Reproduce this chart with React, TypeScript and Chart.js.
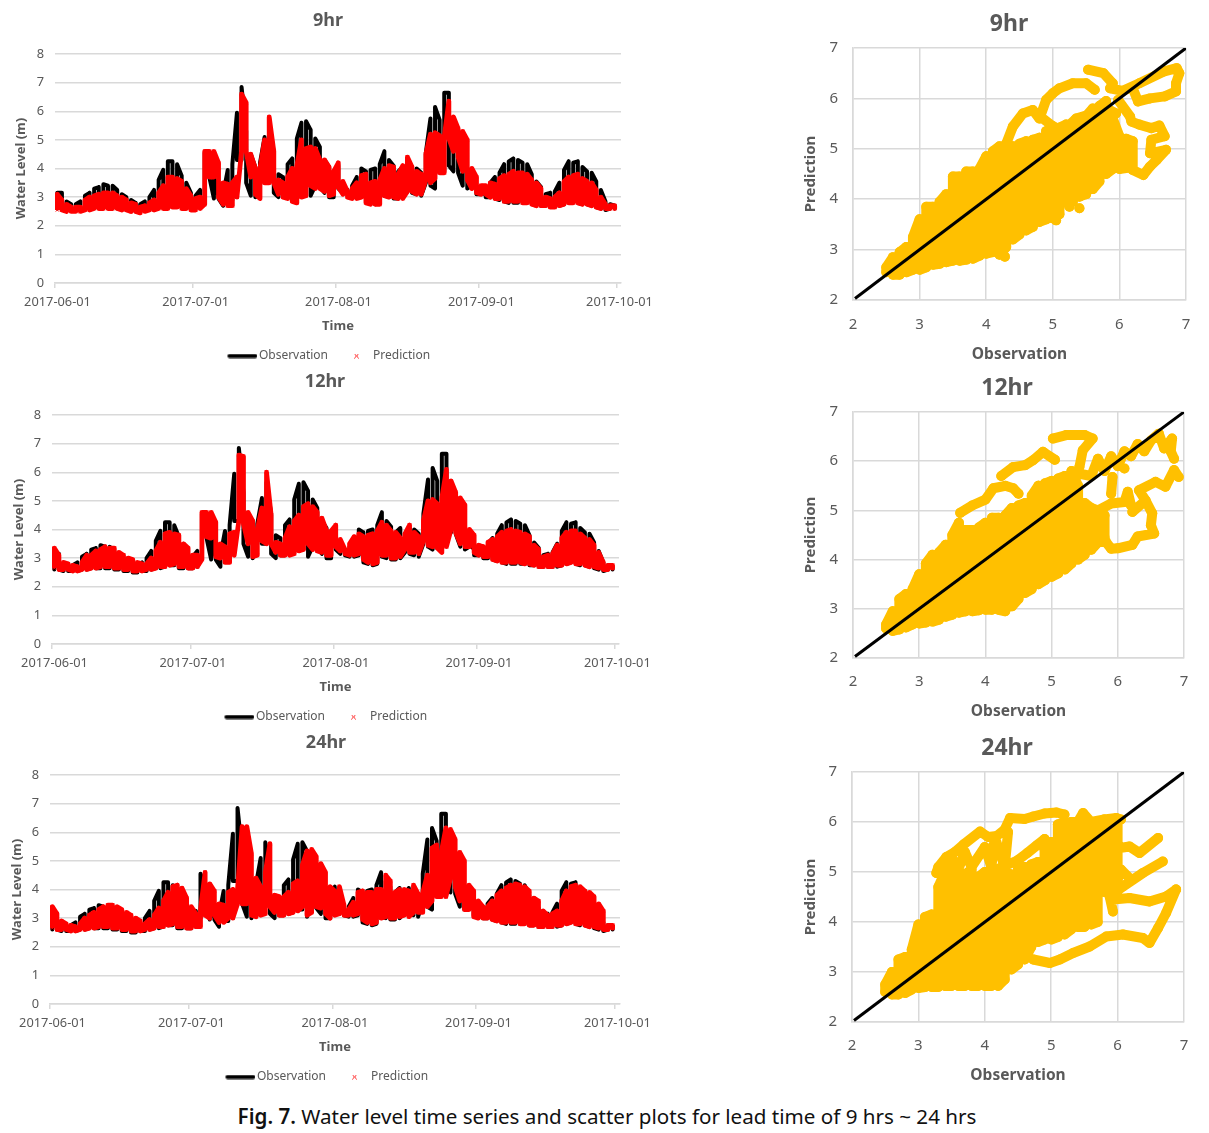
import React, { useEffect, useRef } from "react";
import { Chart, registerables } from "chart.js";

Chart.register(...registerables);

// ---------- shared labels ----------
const dateTicks = ["2017-06-01", "2017-07-01", "2017-08-01", "2017-09-01", "2017-10-01"];
const levelTicks = [0, 1, 2, 3, 4, 5, 6, 7, 8];
const scatterTicks = [2, 3, 4, 5, 6, 7];
const identityLine = [2.03, 7];
const captionBold = "Fig. 7.";
const captionRest = " Water level time series and scatter plots for lead time of 9 hrs ~ 24 hrs";

// ---------- daily high / low water level (m), from 2017-06-01 ----------
const obsHigh = [
  3.15, 3.15, 2.85, 2.75, 2.75, 2.85, 3.05, 3.15, 3.3, 3.35,
  3.45, 3.4, 3.4, 3.25, 3.1, 3.0, 2.9, 2.8, 2.75, 2.85,
  3.0, 3.25, 3.6, 3.95, 4.25, 4.25, 4.15, 3.75, 3.5, 3.15,
  3.05, 3.25, 4.55, 4.1, 3.75, 3.0, 3.1, 3.95, 4.15, 5.95,
  6.85, 5.3, 4.5, 4.05, 4.2, 5.1, 5.65, 4.55, 3.8, 3.7,
  4.15, 4.35, 5.05, 5.6, 5.65, 5.35, 5.05, 4.75, 4.3, 4.05,
  3.9, 4.1, 3.4, 3.25, 3.4, 3.7, 4.0, 3.9, 3.95, 4.0,
  4.15, 4.6, 4.3, 4.1, 3.9, 4.05, 3.8, 4.05, 4.0, 3.85,
  4.55, 5.75, 6.15, 5.7, 6.65, 6.65, 5.2, 4.9, 4.4, 3.9,
  3.5, 3.3, 3.15, 3.1, 3.5, 3.7, 3.85, 4.15, 4.25, 4.35,
  4.3, 4.2, 4.15, 3.8, 3.55, 3.35, 3.1, 3.15, 3.2, 3.5,
  3.95, 4.25, 4.2, 4.25, 4.05, 3.9, 3.85, 3.55, 3.25, 2.85,
  2.75, 2.7,
];
const obsLow = [
  2.6, 2.6, 2.55, 2.55, 2.55, 2.55, 2.6, 2.6, 2.65, 2.65,
  2.65, 2.65, 2.65, 2.6, 2.6, 2.55, 2.55, 2.5, 2.5, 2.55,
  2.55, 2.6, 2.65, 2.65, 2.7, 2.75, 2.75, 2.65, 2.65, 2.65,
  2.65, 2.7, 3.0, 3.7, 2.95, 2.95, 2.7, 2.9, 2.9, 4.3,
  4.3, 3.5, 3.05, 3.0, 3.5, 3.5, 3.5, 3.15, 3.0, 3.1,
  3.1, 3.15, 3.2, 3.3, 3.3, 3.05, 3.4, 3.35, 3.15, 3.0,
  3.0, 3.3, 3.15, 3.1, 3.05, 3.05, 3.1, 2.85, 2.8, 2.75,
  2.8, 3.05, 3.0, 2.95, 2.95, 3.0, 3.2, 3.15, 3.1, 3.05,
  3.5, 3.4, 3.3, 4.2, 3.9, 4.1, 3.9, 3.85, 3.4, 3.3,
  3.4, 3.1, 3.1, 3.0, 3.0, 2.95, 2.9, 2.85, 2.8, 2.8,
  2.8, 2.8, 2.8, 2.75, 2.75, 2.7, 2.7, 2.7, 2.7, 2.7,
  2.75, 2.8, 2.85, 2.8, 2.75, 2.75, 2.7, 2.65, 2.6, 2.55,
  2.6, 2.6,
];
const pred9High = [
  3.1, 2.9, 2.75, 2.65, 2.65, 2.65, 2.9, 3.0, 3.05, 3.1,
  3.15, 3.15, 3.15, 3.05, 3.0, 2.9, 2.8, 2.75, 2.65, 2.7,
  2.8, 2.9, 3.15, 3.4, 3.7, 3.7, 3.65, 3.55, 3.3, 3.05,
  2.95, 3.0, 4.6, 4.6, 4.6, 4.2, 3.5, 3.45, 3.5, 3.7,
  6.6, 6.3, 4.5, 4.0, 4.0, 5.0, 5.8, 4.6, 3.6, 3.5,
  3.7, 4.0, 4.1, 5.0, 4.7, 4.75, 4.7, 4.3, 4.3, 4.05,
  3.9, 4.2, 3.55, 3.2, 3.3, 3.5, 3.75, 3.8, 3.5, 3.55,
  3.6, 4.0, 4.1, 4.05, 3.8, 4.1, 4.4, 4.05, 3.9, 3.8,
  4.5, 5.2, 5.25, 5.15, 5.1, 6.35, 5.8, 5.4, 5.3, 5.0,
  4.0, 3.7, 3.4, 3.4, 3.5, 3.45, 3.65, 3.75, 3.8, 3.9,
  3.85, 3.85, 3.8, 3.6, 3.5, 3.3, 3.0, 2.95, 3.0, 3.15,
  3.55, 3.7, 3.75, 3.8, 3.65, 3.55, 3.5, 3.25, 3.0, 2.75,
  2.7, 2.7,
];
const pred9Low = [
  2.55, 2.55, 2.5, 2.5, 2.5, 2.5, 2.55, 2.55, 2.6, 2.6,
  2.6, 2.6, 2.6, 2.6, 2.55, 2.55, 2.5, 2.5, 2.45, 2.5,
  2.55, 2.55, 2.6, 2.6, 2.6, 2.65, 2.65, 2.6, 2.6, 2.55,
  2.55, 2.6, 2.75, 3.7, 3.7, 3.0, 2.75, 2.7, 2.7, 3.0,
  4.6, 4.6, 3.7, 3.1, 2.95, 3.5, 3.5, 3.5, 3.1, 3.0,
  2.95, 2.85, 2.8, 3.0, 3.05, 3.4, 3.3, 3.3, 3.2, 3.05,
  3.1, 3.35, 3.1, 3.0, 2.95, 2.95, 3.0, 2.8, 2.75, 2.75,
  2.75, 3.05, 3.0, 3.0, 2.95, 2.95, 3.2, 3.2, 3.1, 3.1,
  3.6, 3.5, 3.65, 3.85, 3.85, 5.05, 4.6, 4.4, 3.9, 3.6,
  3.3, 3.15, 3.1, 3.1, 3.0, 2.95, 2.95, 2.85, 2.85, 2.85,
  2.85, 2.8, 2.8, 2.75, 2.7, 2.7, 2.7, 2.65, 2.65, 2.7,
  2.75, 2.8, 2.8, 2.8, 2.75, 2.75, 2.7, 2.65, 2.6, 2.6,
  2.6, 2.6,
];
const pred12High = [
  3.35, 3.1, 2.85, 2.8, 2.75, 2.7, 2.85, 3.1, 3.1, 3.25,
  3.3, 3.4, 3.35, 3.35, 3.2, 3.1, 3.0, 2.95, 2.85, 2.8,
  2.8, 3.0, 3.25, 3.55, 3.85, 3.9, 3.85, 3.8, 3.5, 3.35,
  3.1, 3.1, 4.6, 4.6, 4.6, 4.25, 3.5, 3.4, 3.85, 3.9,
  6.6, 6.55, 4.6, 4.3, 4.0, 4.75, 6.0, 4.5, 3.55, 3.5,
  3.7, 4.1, 4.3, 4.5, 4.8, 4.9, 4.8, 4.6, 4.4, 3.95,
  3.95, 4.15, 3.65, 3.3, 3.5, 3.75, 3.85, 3.75, 3.8, 3.85,
  3.95, 4.25, 4.15, 3.95, 3.9, 3.7, 3.85, 4.15, 3.9, 3.75,
  4.3, 5.0, 5.05, 4.9, 5.1, 6.1, 5.7, 5.3, 5.1, 4.85,
  4.0, 3.8, 3.45, 3.4, 3.55, 3.65, 3.75, 3.9, 3.95, 4.0,
  3.95, 3.9, 3.85, 3.75, 3.45, 3.3, 3.05, 3.1, 3.15, 3.45,
  3.7, 3.9, 3.95, 3.95, 3.85, 3.7, 3.65, 3.45, 3.2, 2.85,
  2.75, 2.75,
];
const pred12Low = [
  2.65, 2.6, 2.6, 2.6, 2.55, 2.55, 2.6, 2.6, 2.65, 2.65,
  2.7, 2.7, 2.7, 2.65, 2.65, 2.6, 2.6, 2.55, 2.55, 2.55,
  2.6, 2.6, 2.65, 2.7, 2.7, 2.75, 2.8, 2.7, 2.7, 2.65,
  2.65, 2.7, 2.95, 3.75, 3.7, 3.05, 3.0, 2.85, 2.85, 3.1,
  4.3, 4.2, 3.5, 3.05, 3.1, 3.6, 3.5, 3.5, 3.2, 3.1,
  3.1, 3.1, 3.15, 3.25, 3.3, 3.5, 3.3, 3.25, 3.2, 3.1,
  3.1, 3.4, 3.25, 3.15, 3.1, 3.1, 3.15, 2.95, 2.85, 2.8,
  2.85, 3.1, 3.1, 3.0, 3.0, 3.05, 3.3, 3.2, 3.2, 3.15,
  3.6, 3.45, 3.4, 3.35, 3.2, 3.4, 4.0, 3.9, 3.5, 3.4,
  3.4, 3.2, 3.1, 3.05, 3.05, 2.95, 2.9, 2.85, 2.85, 2.85,
  2.85, 2.85, 2.8, 2.8, 2.75, 2.7, 2.7, 2.7, 2.7, 2.75,
  2.75, 2.8, 2.85, 2.8, 2.8, 2.75, 2.7, 2.7, 2.65, 2.6,
  2.6, 2.65,
];
const pred24High = [
  3.4, 3.15, 2.9, 2.8, 2.75, 2.7, 2.8, 3.0, 3.1, 3.2,
  3.3, 3.4, 3.45, 3.45, 3.4, 3.3, 3.2, 3.1, 3.0, 2.9,
  2.8, 2.95, 3.1, 3.35, 3.6, 3.9, 4.1, 4.15, 4.05, 3.7,
  3.4, 3.15, 3.3, 4.6, 4.2, 3.95, 3.5, 3.45, 3.9, 4.0,
  4.0, 6.2, 6.2, 5.25, 4.4, 4.1, 4.6, 5.6, 3.8, 3.75,
  3.75, 3.9, 4.2, 4.3, 4.85, 5.35, 5.4, 5.15, 4.9, 4.6,
  4.1, 3.95, 4.1, 3.45, 3.3, 3.55, 3.9, 3.95, 3.9, 3.9,
  4.0, 4.0, 4.5, 4.3, 3.9, 4.0, 4.0, 3.95, 4.15, 3.85,
  3.9, 4.5, 5.45, 5.55, 5.3, 6.15, 6.1, 5.75, 5.3, 5.0,
  4.15, 3.95, 3.6, 3.4, 3.4, 3.6, 3.8, 3.95, 4.05, 4.15,
  4.2, 4.15, 4.1, 3.95, 3.7, 3.6, 3.25, 3.1, 3.15, 3.25,
  3.6, 3.95, 4.1, 4.15, 4.1, 3.95, 3.9, 3.75, 3.5, 3.25,
  2.75, 2.75,
];
const pred24Low = [
  2.65, 2.6, 2.6, 2.6, 2.55, 2.55, 2.6, 2.6, 2.65, 2.65,
  2.7, 2.7, 2.7, 2.65, 2.65, 2.6, 2.6, 2.55, 2.55, 2.55,
  2.6, 2.6, 2.65, 2.7, 2.7, 2.75, 2.8, 2.7, 2.7, 2.65,
  2.65, 2.7, 2.7, 3.1, 3.0, 3.1, 2.85, 2.85, 3.0, 3.0,
  3.5, 3.5, 3.5, 3.1, 3.05, 3.1, 3.15, 3.4, 3.2, 3.1,
  3.1, 3.15, 3.2, 3.25, 3.4, 3.1, 3.2, 3.4, 3.35, 3.15,
  3.0, 3.1, 3.15, 3.1, 3.1, 3.1, 3.15, 2.95, 2.85, 2.8,
  2.85, 3.0, 3.05, 3.0, 3.0, 3.05, 3.1, 3.05, 3.2, 3.2,
  3.2, 3.4, 3.6, 3.75, 3.75, 3.75, 4.4, 4.1, 3.6, 3.3,
  3.3, 3.05, 3.0, 3.0, 3.0, 2.95, 2.9, 2.85, 2.85, 2.85,
  2.85, 2.8, 2.8, 2.75, 2.75, 2.7, 2.7, 2.7, 2.7, 2.75,
  2.75, 2.8, 2.85, 2.8, 2.8, 2.75, 2.7, 2.7, 2.65, 2.6,
  2.6, 2.65,
];

// ---------- scatter: dense body, as low / high prediction per observation column ----------
const bodyColumns = [
  2.5, 2.6, 2.7, 2.8, 2.9, 3.0, 3.1, 3.2, 3.3, 3.4, 3.5, 3.6, 3.7, 3.8, 3.9, 4.0, 4.1, 4.2, 4.3,
  4.4, 4.5, 4.6, 4.7, 4.8, 4.9, 5.0, 5.1, 5.2, 5.3, 5.4, 5.5, 5.6, 5.7, 5.8, 5.9, 6.0, 6.1, 6.2,
];
const body9Low = [
  2.55, 2.5, 2.5, 2.55, 2.6, 2.6, 2.65, 2.7, 2.72, 2.75, 2.78, 2.78, 2.8, 2.82, 2.88, 2.92, 2.95, 2.9, 3.05,
  3.2, 3.3, 3.38, 3.45, 3.55, 3.6, 3.62, 3.7, 3.95, 3.95, 4.05, 4.1, 4.2, 4.35, 4.5, 4.6, 4.6, 4.62, 4.6,
];
const body9High = [
  2.65, 2.85, 2.95, 3.05, 3.25, 3.6, 3.85, 3.85, 3.95, 4.1, 4.45, 4.45, 4.55, 4.55, 4.6, 4.85, 4.95, 5.05, 5.05,
  5.05, 5.1, 5.15, 5.18, 5.22, 5.35, 5.4, 5.42, 5.48, 5.5, 5.55, 5.65, 5.8, 5.85, 5.95, 5.6, 5.25, 5.2, 5.15,
];
const body12Low = [
  2.6, 2.55, 2.58, 2.62, 2.68, 2.7, 2.72, 2.74, 2.78, 2.84, 2.88, 2.92, 2.95, 2.95, 2.97, 2.98, 2.98, 2.98, 2.95,
  3.05, 3.2, 3.32, 3.4, 3.5, 3.58, 3.65, 3.72, 3.8, 3.92, 4.0, 4.1, 4.2, 4.35, 4.45,
];
const body12High = [
  2.68, 2.95, 3.2, 3.3, 3.4, 3.7, 3.92, 4.1, 4.15, 4.3, 4.5, 4.75, 4.6, 4.6, 4.65, 4.75, 4.85, 4.85, 4.9,
  5.05, 5.1, 5.15, 5.3, 5.5, 5.55, 5.6, 5.65, 5.7, 5.8, 5.5, 5.15, 5.05, 4.95, 4.9,
];
const body24Low = [
  2.6, 2.55, 2.55, 2.58, 2.65, 2.68, 2.7, 2.7, 2.7, 2.72, 2.72, 2.72, 2.72, 2.72, 2.72, 2.72, 2.72, 2.72, 2.85,
  3.05, 3.15, 3.25, 3.5, 3.6, 3.65, 3.65, 3.7, 3.75, 3.85, 3.9, 3.9, 3.95, 4.0, 4.6, 4.6, 4.7,
];
const body24High = [
  2.75, 3.0, 3.25, 3.3, 3.45, 3.95, 4.1, 4.15, 4.7, 5.0, 5.0, 4.95, 4.95, 5.05, 4.9, 5.0, 5.1, 5.0, 5.0,
  4.95, 5.05, 5.1, 5.15, 5.2, 5.45, 5.6, 5.95, 6.0, 6.0, 6.0, 6.0, 6.0, 6.0, 6.05, 6.05, 6.05,
];

// ---------- scatter: outlying runs of observation / prediction (null in prediction = break) ----------
const runs9Obs = [
  4.3, 4.4, 4.55, 4.7, 4.8, 4.9, 5.0, 5.1, 5.3, 5.5, 5.63, 5.63,
  4.8, 5.0, 5.15, 5.35, 5.6, 5.75, 5.95, 5.95,
  5.53, 5.76, 5.9, 5.86, 6.05, 6.3, 6.66, 6.86, 6.9, 6.85, 6.85, 6.68, 6.46, 6.28, 6.2, 6.2,
  5.98, 6.16, 6.18, 6.3, 6.48, 6.6, 6.68, 6.48, 6.46, 6.7, 6.56, 6.46, 6.36, 6.2, 6.2,
  4.28, 4.28, 5.05, 5.05, 5.25, 5.25, 5.4,
];
const runs9Pred = [
  5.1, 5.44, 5.7, 5.77, 5.6, 5.97, 6.1, 6.2, 6.3, 6.3, 6.17, null,
  5.65, 5.45, 5.35, 5.6, 5.7, 5.84, 5.7, null,
  6.57, 6.5, 6.3, 6.2, 6.15, 6.3, 6.53, 6.6, 6.5, 6.3, 6.14, 6.04, 6.0, 5.94, 6.2, null,
  5.97, 5.64, 5.54, 5.48, 5.41, 5.46, 5.25, 5.18, 4.91, 4.98, 4.78, 4.65, 4.48, 4.58, null,
  2.86, null, 3.58, null, 3.85, null, 3.82,
];
const runs12Obs = [
  3.62, 3.8, 4.0, 4.12, 4.3, 4.42, 4.5, 4.5,
  4.24, 4.42, 4.6, 4.72, 4.87, 5.05, 5.05,
  5.02, 5.22, 5.5, 5.62, 5.47, 5.42, 5.42,
  5.4, 5.6, 5.7, 5.8, 5.9, 6.0, 6.1, 6.2, 6.3, 6.4, 6.5, 6.62, 6.7, 6.82, 6.8, 6.85, 6.85,
  5.92, 5.9, 5.9, 6.1, 6.1,
  5.3, 5.5, 5.7, 5.9, 6.1, 6.15, 6.2, 6.2,
  6.92, 6.85, 6.72, 6.57, 6.32, 6.42, 6.22, 6.42, 6.52, 6.5, 6.55, 6.3, 6.22, 6.0, 5.9, 5.82, 5.72, 5.5,
];
const runs12Pred = [
  4.95, 5.1, 5.22, 5.45, 5.5, 5.45, 5.34, null,
  5.7, 5.88, 5.92, 6.02, 6.19, 6.03, null,
  6.46, 6.53, 6.53, 6.46, 6.22, 5.88, null,
  5.75, 5.7, 6.05, 5.8, 6.1, 5.9, 6.2, 6.1, 6.35, 6.2, 6.42, 6.56, 6.26, 6.46, 6.2, 6.05, null,
  5.68, 5.34, null, 5.85, null,
  4.95, 5.1, 5.0, 5.14, 5.17, 5.38, 5.1, null,
  5.68, 5.82, 5.48, 5.58, 5.41, 5.2, 4.97, 5.2, 4.94, 4.7, 4.53, 4.47, 4.3, 4.23, 4.22, 4.36, 4.36, 4.25,
];
const runs24Obs = [
  3.27, 3.3, 3.42, 3.55, 3.68, 3.93, 4.05, 4.18, 4.3, 4.38, 4.6, 4.73, 4.9, 5.08, 5.2, 5.2,
  3.4, 3.5, 3.6, 3.7, 3.8, 4.0, 4.1, 4.15, 4.3, 4.35, 4.35,
  5.4, 5.48, 5.6, 5.8, 5.98, 6.05, 6.05,
  4.23, 4.49, 4.64, 4.78, 4.9, 4.9,
  5.88, 6.18, 6.33, 6.61, 6.61,
  6.68, 6.38, 6.08, 5.88, 5.93, 5.93,
  6.88, 6.73, 6.48, 6.18, 5.93, 5.93,
  6.88, 6.73, 6.61, 6.48, 6.38, 6.08, 5.83, 5.58, 5.33, 5.13, 4.98, 4.73, 4.73,
  6.0, 6.05, 6.2,
];
const runs24Pred = [
  4.98, 5.1, 5.3, 5.4, 5.55, 5.81, 5.7, 5.72, 5.85, 6.08, 6.06, 6.11, 6.17, 6.19, 6.15, null,
  5.05, 5.3, 5.05, 5.4, 5.1, 5.5, 5.1, 5.7, 5.1, 5.8, null,
  6.0, 6.18, 6.0, 6.05, 6.08, 6.05, null,
  5.08, 5.23, 5.38, 5.53, 5.66, null,
  5.45, 5.51, 5.38, 5.68, null,
  5.21, 4.98, 4.71, 4.51, 4.21, null,
  4.65, 4.51, 4.41, 4.48, 4.45, null,
  4.65, 4.18, 3.88, 3.58, 3.68, 3.75, 3.71, 3.51, 3.38, 3.25, 3.18, 3.25, null,
  4.85, 5.05, 4.85,
];

// ---------- styling ----------
const FONT = '"Noto Sans", "Open Sans", sans-serif';
const GRAY = "#595959";
const GRID = "#d9d9d9";
const ORANGE = "#FFC000";
const RED = "#FF0000";

const dayOf = (label: string) => (Date.parse(label) - Date.parse(dateTicks[0])) / 86400000;

// Each day's low-to-high swing is one vertical stroke, alternating direction.
function band(high: number[], low: number[]) {
  const pts: { x: number; y: number }[] = [];
  high.forEach((h, d) => {
    const x = d + 0.5;
    if (d % 2 === 0) pts.push({ x, y: low[d] }, { x, y: h });
    else pts.push({ x, y: h }, { x, y: low[d] });
  });
  return pts;
}

// Body columns are swept up and down; the outlying runs follow after a break.
function scatterPoints(low: number[], high: number[], obs: number[], pred: (number | null)[]) {
  const pts: { x: number; y: number | null }[] = [];
  low.forEach((lo, i) => {
    const x = bodyColumns[i];
    if (i % 2 === 0) pts.push({ x, y: lo }, { x, y: high[i] });
    else pts.push({ x, y: high[i] }, { x, y: lo });
  });
  pts.push({ x: obs[0], y: null });
  obs.forEach((x, i) => pts.push({ x, y: pred[i] }));
  return pts;
}

function icon(w: number, h: number, draw: (c: CanvasRenderingContext2D) => void) {
  const el = document.createElement("canvas");
  el.width = w;
  el.height = h;
  draw(el.getContext("2d") as CanvasRenderingContext2D);
  return el;
}

function SeriesPanel(p: any) {
  const ref = useRef<HTMLCanvasElement>(null);
  useEffect(() => {
    const lineIcon = icon(36, 5, (c) => {
      c.strokeStyle = "#000";
      c.lineWidth = 4;
      c.lineCap = "round";
      c.beginPath();
      c.moveTo(8, 2.5);
      c.lineTo(34, 2.5);
      c.stroke();
    });
    const crossIcon = icon(11, 5, (c) => {
      c.strokeStyle = RED;
      c.lineWidth = 1;
      c.beginPath();
      c.moveTo(6.5, 0.5);
      c.lineTo(10.5, 4.5);
      c.moveTo(10.5, 0.5);
      c.lineTo(6.5, 4.5);
      c.stroke();
    });
    const chart = new Chart(ref.current as HTMLCanvasElement, {
      type: "scatter",
      data: {
        datasets: [
          {
            label: "Observation",
            data: band(obsHigh, obsLow),
            showLine: true,
            borderColor: "#000",
            borderWidth: 4,
            borderJoinStyle: "round",
            borderCapStyle: "round",
            pointRadius: 0,
            order: 2,
          },
          {
            label: "Prediction",
            data: band(p.high, p.low),
            showLine: true,
            borderColor: RED,
            borderWidth: 4.8,
            borderJoinStyle: "round",
            pointStyle: "crossRot",
            pointRadius: 2.2,
            pointBorderColor: RED,
            pointBorderWidth: 1,
            order: 1,
          },
        ],
      },
      options: {
        animation: false,
        responsive: false,
        layout: { padding: 0 },
        plugins: {
          tooltip: { enabled: false },
          title: {
            display: true,
            text: p.title,
            color: GRAY,
            font: { family: FONT, size: 18, weight: "bold" },
            padding: { top: 10.2, bottom: p.titleGap },
          },
          legend: {
            position: "bottom",
            labels: {
              color: GRAY,
              font: { family: FONT, size: 12 },
              usePointStyle: true,
              pointStyleWidth: 27,
              padding: 12,
              generateLabels: () => [
                { text: "Observation", pointStyle: lineIcon, fontColor: GRAY, lineWidth: 0, datasetIndex: 0 },
                { text: "Prediction", pointStyle: crossIcon, fontColor: GRAY, lineWidth: 0, datasetIndex: 1 },
              ],
            },
          },
        },
        scales: {
          x: {
            type: "linear",
            min: 0,
            max: p.xMax,
            afterBuildTicks: (s: any) => {
              s.ticks = dateTicks.map((t) => ({ value: dayOf(t) }));
            },
            afterFit: (s: any) => {
              s.height = 55;
              s.paddingLeft = 0;
              s.paddingRight = 0;
            },
            grid: { drawOnChartArea: false, drawTicks: true, tickLength: 5, color: GRID, lineWidth: 1.5 },
            border: { color: GRID, width: 1.5 },
            ticks: {
              autoSkip: false,
              maxRotation: 0,
              padding: 7,
              labelOffset: 2.5,
              color: GRAY,
              font: { family: FONT, size: 12.8 },
              callback: (v: any) => dateTicks.find((t) => dayOf(t) === v) ?? "",
            },
            title: {
              display: true,
              text: "Time",
              color: GRAY,
              font: { family: FONT, size: 13, weight: "bold" },
              padding: { top: 0, bottom: 4.2 },
            },
          },
          y: {
            min: 0,
            max: 8,
            afterBuildTicks: (s: any) => {
              s.ticks = levelTicks.map((value) => ({ value }));
            },
            afterFit: (s: any) => {
              s.width = p.plotLeft;
            },
            grid: { color: GRID, lineWidth: 1.5, drawTicks: false },
            border: { display: false },
            ticks: { padding: 11, color: GRAY, font: { family: FONT, size: 12.8 } },
            title: {
              display: true,
              text: "Water Level (m)",
              color: GRAY,
              font: { family: FONT, size: 13, weight: "bold" },
              padding: { top: p.yTitleGap, bottom: 0 },
            },
          },
          gutter: {
            position: "right",
            grid: { display: false },
            border: { display: false },
            ticks: { display: false },
            afterFit: (s: any) => {
              s.width = p.right;
            },
          },
        },
      },
    } as any);
    return () => chart.destroy();
  }, []);
  return (
    <canvas
      ref={ref}
      width={p.width}
      height={p.height}
      style={{ position: "absolute", left: 0, top: p.top, width: p.width, height: p.height }}
    />
  );
}

function ScatterPanel(p: any) {
  const ref = useRef<HTMLCanvasElement>(null);
  useEffect(() => {
    const chart = new Chart(ref.current as HTMLCanvasElement, {
      type: "scatter",
      data: {
        datasets: [
          {
            label: "Identity",
            data: identityLine.map((v) => ({ x: v, y: v })),
            showLine: true,
            borderColor: "#000",
            borderWidth: 3,
            pointRadius: 0,
            order: 1,
          },
          {
            label: "Prediction",
            data: scatterPoints(p.low, p.bodyHigh, p.obs, p.pred),
            showLine: true,
            spanGaps: false,
            borderColor: ORANGE,
            borderWidth: 10,
            borderJoinStyle: "round",
            borderCapStyle: "round",
            backgroundColor: ORANGE,
            pointBackgroundColor: ORANGE,
            pointBorderWidth: 0,
            pointRadius: 5,
            order: 2,
          },
        ],
      },
      options: {
        animation: false,
        responsive: false,
        layout: { padding: 0 },
        plugins: {
          tooltip: { enabled: false },
          legend: { display: false },
          title: {
            display: true,
            text: p.title,
            color: GRAY,
            font: { family: FONT, size: 23, weight: "bold" },
            padding: { top: 10.2, bottom: 10.2 },
          },
        },
        scales: {
          x: {
            type: "linear",
            min: 2,
            max: 7,
            afterBuildTicks: (s: any) => {
              s.ticks = scatterTicks.map((value) => ({ value }));
            },
            afterFit: (s: any) => {
              s.height = 70;
              s.paddingLeft = 0;
              s.paddingRight = 0;
            },
            grid: { color: GRID, lineWidth: 1.5, drawTicks: false },
            border: { color: GRID, width: 1.5 },
            ticks: { padding: p.tickGap, color: GRAY, font: { family: FONT, size: 15 } },
            title: {
              display: true,
              text: "Observation",
              color: GRAY,
              font: { family: FONT, size: 15.5, weight: "bold" },
              padding: { top: 0, bottom: p.xTitleGap },
            },
          },
          y: {
            min: 2,
            max: 7,
            afterBuildTicks: (s: any) => {
              s.ticks = scatterTicks.map((value) => ({ value }));
            },
            afterFit: (s: any) => {
              s.width = p.plotLeft;
            },
            grid: { color: GRID, lineWidth: 1.5, drawTicks: false },
            border: { color: GRID, width: 1.5 },
            ticks: { padding: 15, color: GRAY, font: { family: FONT, size: 15 } },
            title: {
              display: true,
              text: "Prediction",
              color: GRAY,
              font: { family: FONT, size: 15, weight: "bold" },
              padding: { top: 2, bottom: 0 },
            },
          },
          gutter: {
            position: "right",
            grid: { display: false },
            border: { display: false },
            ticks: { display: false },
            afterFit: (s: any) => {
              s.width = p.right;
            },
          },
        },
      },
    } as any);
    return () => chart.destroy();
  }, []);
  return (
    <canvas
      ref={ref}
      width={p.width}
      height={p.height}
      style={{ position: "absolute", left: 800, top: p.top, width: p.width, height: p.height }}
    />
  );
}

export default function App() {
  return (
    <div
      style={{
        position: "absolute",
        left: 0,
        top: 0,
        width: 1209,
        height: 1133,
        overflow: "hidden",
        background: "#fff",
      }}
    >
      <SeriesPanel title="9hr" high={pred9High} low={pred9Low} top={0} width={656} height={372} plotLeft={55} right={35} titleGap={22.2} yTitleGap={13.8} xMax={122.87} />
      <SeriesPanel title="12hr" high={pred12High} low={pred12Low} top={361} width={650} height={372} plotLeft={52} right={31} titleGap={22.2} yTitleGap={11} xMax={122.9} />
      <SeriesPanel title="24hr" high={pred24High} low={pred24Low} top={722} width={652} height={371} plotLeft={50} right={32} titleGap={21.2} yTitleGap={9.5} xMax={123.1} />
      <ScatterPanel title="9hr" low={body9Low} bodyHigh={body9High} obs={runs9Obs} pred={runs9Pred} top={0} width={418} height={370} plotLeft={53} right={32} tickGap={15.5} xTitleGap={6} />
      <ScatterPanel title="12hr" low={body12Low} bodyHigh={body12High} obs={runs12Obs} pred={runs12Pred} top={364} width={414} height={364} plotLeft={53} right={30} tickGap={14.5} xTitleGap={7} />
      <ScatterPanel title="24hr" low={body24Low} bodyHigh={body24High} obs={runs24Obs} pred={runs24Pred} top={724} width={414} height={368} plotLeft={52} right={30} tickGap={14.5} xTitleGap={7} />
      <div
        style={{
          position: "absolute",
          left: 0,
          width: 1214,
          top: 1102,
          textAlign: "center",
          whiteSpace: "pre",
          fontFamily: FONT,
          fontSize: 20.6,
          lineHeight: "28px",
          color: "#111",
        }}
      >
        <span style={{ fontWeight: 600 }}>{captionBold}</span>
        {captionRest}
      </div>
    </div>
  );
}
